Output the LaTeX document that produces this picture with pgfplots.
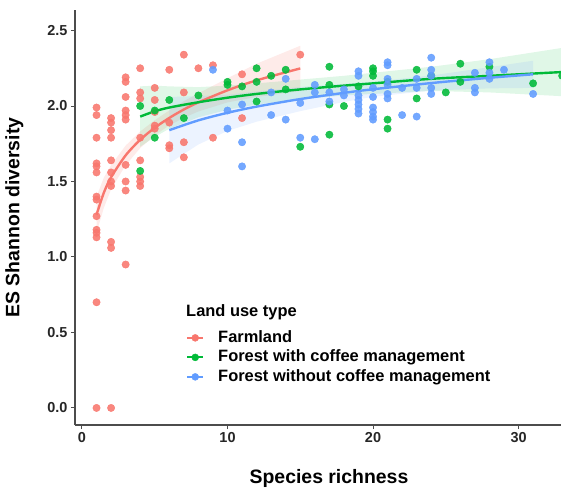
\documentclass[border=0pt]{standalone}
\usepackage{pgfplots}
\pgfplotsset{compat=1.18}
\usepackage{fontspec}
\setmainfont{Liberation Sans}
\definecolor{cR}{HTML}{F8766D}
\definecolor{cG}{HTML}{00BA38}
\definecolor{cB}{HTML}{619CFF}
\begin{document}
\begin{tikzpicture}
\useasboundingbox (0bp,0bp) rectangle (561bp,488bp);
\begin{axis}[
  at={(75bp,63bp)}, anchor=south west,
  scale only axis, width=500bp, height=415bp,
  xmin=-0.48, xmax=33.88, ymin=-0.113, ymax=2.636,
  axis x line*=bottom, axis y line*=left,
  axis line style={-, draw=black!70, line width=1.1bp},
  tick style={draw=black!70, line width=1bp},
  tick align=outside, major tick length=4bp,
  xtick={0,10,20,30}, ytick={0,0.5,1,1.5,2,2.5},
  yticklabel style={/pgf/number format/fixed, /pgf/number format/fixed zerofill, /pgf/number format/precision=1},
  /pgf/number format/assume math mode=true,
  ticklabel style={font=\fontsize{14.5}{16}\selectfont\bfseries, text=black!85},
  xlabel={Species richness}, ylabel={ES Shannon diversity},
  label style={font=\fontsize{19.5}{22}\selectfont\bfseries, text=black},
  xlabel style={at={(rel axis cs:0.508,-0.1398)}, anchor=base},
  ylabel style={at={(rel axis cs:-0.096,0.5)}, anchor=south},
  legend style={at={(axis cs:7.15,0.53)}, anchor=north west, draw=none, fill=none,
    inner sep=0pt, font=\fontsize{16.5}{19}\selectfont\bfseries,
    nodes={text height=12bp, text depth=3.5bp, inner sep=2bp},
    /tikz/every odd column/.append style={column sep=12bp}},
  legend cell align=left,
  legend image code/.code={\draw[mark repeat=2,mark phase=2,#1] plot coordinates {(0bp,0bp) (8bp,0bp) (16bp,0bp)};},
  ptR/.style={color=cR, only marks, mark=*, mark size=3.7bp, mark options={draw=cR, fill=cR, opacity=0.88}, forget plot},
  ptG/.style={color=cG, only marks, mark=*, mark size=3.7bp, mark options={draw=cG, fill=cG, opacity=0.88}, forget plot},
  ptB/.style={color=cB, only marks, mark=*, mark size=3.7bp, mark options={draw=cB, fill=cB, opacity=0.88}, forget plot},
]
% points
\addplot[ptR] table {
x y
1 1.99
1 1.94
1 1.79
1 1.62
1 1.60
1 1.56
1 1.40
1 1.38
1 1.27
1 1.18
1 1.16
1 1.13
1 0.70
1 0.00
2 1.92
2 1.89
2 1.84
2 1.79
2 1.64
2 1.56
2 1.50
2 1.47
2 1.10
2 1.06
2 0.00
3 2.19
3 2.16
3 2.06
3 1.97
3 1.94
3 1.91
3 1.61
3 1.50
3 1.44
3 0.95
4 2.25
4 2.09
4 2.05
4 1.79
4 1.64
4 1.53
4 1.50
4 1.47
5 2.12
5 2.04
5 1.96
5 1.87
5 1.85
6 2.24
6 1.89
6 1.74
6 1.72
7 2.34
7 2.09
7 1.76
7 1.66
8 2.25
9 2.27
9 1.79
11 2.21
11 1.92
15 2.34
};
\addplot[ptG] table {
x y
4 2.00
4 1.57
5 1.97
5 1.79
6 2.04
7 1.92
8 2.07
10 2.16
10 2.14
11 2.13
12 2.25
12 2.16
12 2.03
13 2.20
14 2.24
14 2.11
15 1.73
17 2.26
17 2.14
17 2.01
17 1.81
18 2.00
19 2.13
20 2.25
20 2.23
20 2.20
21 2.16
21 1.91
21 1.85
23 2.24
23 2.05
24 2.20
25 2.09
26 2.28
26 2.16
28 2.26
31 2.15
33 2.20
};
\addplot[ptB] table {
x y
9 2.24
10 1.97
10 1.85
11 2.01
11 1.76
11 1.60
13 2.09
13 1.94
14 2.18
14 1.91
15 2.02
15 1.79
16 2.14
16 2.09
16 1.78
17 2.09
17 2.03
18 2.11
18 2.07
19 2.23
19 2.20
19 2.07
19 2.04
19 2.01
19 1.98
19 1.95
20 2.12
20 2.06
20 1.99
20 1.96
20 1.93
20 1.91
21 2.29
21 2.27
21 2.18
21 2.14
21 2.08
21 2.05
22 2.12
22 1.94
23 2.18
23 2.12
23 1.93
24 2.32
24 2.24
24 2.20
24 2.12
24 2.08
27 2.22
27 2.12
27 2.09
28 2.29
28 2.22
28 2.18
29 2.24
31 2.08
};
% ribbons
\addplot[draw=none, fill=cR, fill opacity=0.15, forget plot] coordinates {
(1,1.40) (1.5,1.525) (2,1.608) (3,1.738) (4,1.831) (5,1.906) (6,1.971) (7,2.032) (8,2.084) (10,2.184) (12,2.280) (15,2.399)
(15,2.099) (12,2.060) (10,2.024) (8,1.964) (7,1.922) (6,1.871) (5,1.806) (4,1.721) (3,1.608) (2,1.448) (1.5,1.325) (1,1.16)
} -- cycle;
\addplot[draw=none, fill=cG, fill opacity=0.12, forget plot] coordinates {
(4,2.13) (5,2.135) (6,2.13) (8,2.125) (10,2.135) (12,2.15) (15,2.175) (18,2.20) (20,2.22) (24,2.26) (28,2.31) (33,2.385)
(33,2.065) (28,2.09) (24,2.10) (20,2.08) (18,2.07) (15,2.045) (12,2.01) (10,1.975) (8,1.925) (6,1.85) (5,1.795) (4,1.73)
} -- cycle;
\addplot[draw=none, fill=cB, fill opacity=0.12, forget plot] coordinates {
(6,2.06) (8,2.065) (10,2.075) (12,2.096) (15,2.126) (18,2.147) (20,2.161) (24,2.202) (28,2.257) (31,2.30)
(31,2.12) (28,2.117) (24,2.102) (20,2.061) (18,2.027) (15,1.966) (12,1.896) (10,1.835) (8,1.745) (6,1.62)
} -- cycle;
% fitted lines
\addplot[cR, line width=2.4bp, smooth, forget plot] coordinates {
(1,1.280) (1.5,1.425) (2,1.528) (3,1.673) (4,1.776) (5,1.856) (6,1.921) (7,1.977) (8,2.024) (10,2.104) (12,2.170) (15,2.249)
};
\addplot[cG, line width=2.4bp, smooth, forget plot] coordinates {
(4,1.93) (5,1.965) (6,1.99) (8,2.025) (10,2.055) (12,2.08) (15,2.11) (18,2.135) (20,2.15) (24,2.18) (28,2.20) (33,2.225)
};
\addplot[cB, line width=2.4bp, smooth, forget plot] coordinates {
(6,1.84) (8,1.905) (10,1.955) (12,1.996) (15,2.046) (18,2.087) (20,2.111) (24,2.152) (28,2.187) (31,2.21)
};
% legend
\addlegendimage{cR, line width=2bp, mark=*, mark size=3.5bp, mark options={fill=cR, draw=cR, line width=0.4bp}}
\addlegendentry{Farmland}
\addlegendimage{cG, line width=2bp, mark=*, mark size=3.5bp, mark options={fill=cG, draw=cG, line width=0.4bp}}
\addlegendentry{Forest with coffee management}
\addlegendimage{cB, line width=2bp, mark=*, mark size=3.5bp, mark options={fill=cB, draw=cB, line width=0.4bp}}
\addlegendentry{Forest without coffee management}
\node[anchor=base west, font=\fontsize{16.5}{19}\selectfont\bfseries, inner sep=0pt] at (axis cs:7.15,0.609) {Land use type};
\end{axis}
\end{tikzpicture}
\end{document}
